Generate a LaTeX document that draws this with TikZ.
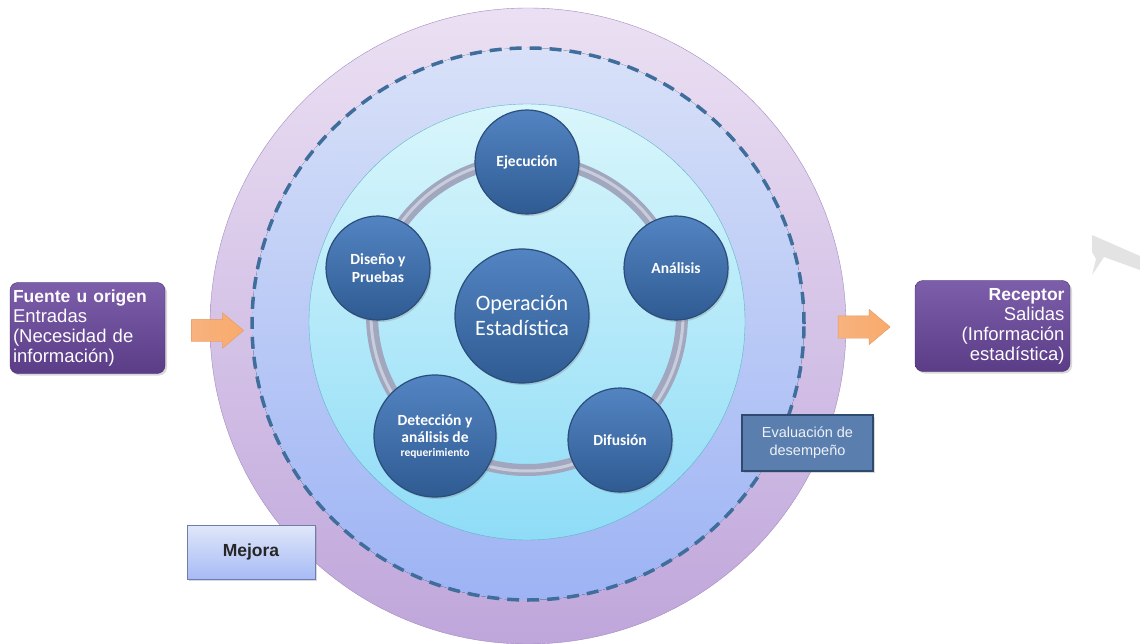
\documentclass[tikz,border=0pt]{standalone}
\usepackage{fontspec}
\usepackage{xcolor}
\usepackage{tikz}
\usetikzlibrary{shapes,shadows,calc}
\newfontfamily\calibri{Carlito}
\newfontfamily\arial{Liberation Sans}
\definecolor{lilaarriba}{HTML}{EBE0F3}
\definecolor{lilaabajo}{HTML}{BFA6DB}
\definecolor{lilaborde}{HTML}{A08CBE}
\definecolor{periarriba}{HTML}{D8E1F8}
\definecolor{periabajo}{HTML}{9DB3F4}
\definecolor{discont}{HTML}{3F6D9C}
\definecolor{cianarriba}{HTML}{D9F6FB}
\definecolor{cianabajo}{HTML}{8FDCF7}
\definecolor{cianborde}{HTML}{62B3C6}
\definecolor{azularriba}{HTML}{5384C2}
\definecolor{azulabajo}{HTML}{2F5B92}
\definecolor{azulborde}{HTML}{2A4D7B}
\definecolor{anillo}{HTML}{A0A7BE}
\definecolor{anilloluz}{HTML}{C9CDDB}
\definecolor{moradoarriba}{HTML}{7C5EAA}
\definecolor{moradoabajo}{HTML}{5A3C87}
\definecolor{naranja}{HTML}{F7B27E}
\definecolor{naranjaborde}{HTML}{E59A63}
\definecolor{evalfondo}{HTML}{5A7EAE}
\definecolor{evalborde}{HTML}{2E4A6F}

\begin{document}
\begin{tikzpicture}[x=1pt,y=-1pt,
        etapa/.style={circle,draw=azulborde,line width=1.2pt,top color=azularriba,bottom color=azulabajo,
            text=white,align=center,inner sep=0pt,font=\calibri\bfseries\fontsize{15.5}{18}\selectfont,
            drop shadow={opacity=0.3,shadow xshift=1.5pt,shadow yshift=-2pt}},
        caja/.style={rounded corners=8pt,draw=moradoabajo!80!black,top color=moradoarriba,bottom color=moradoabajo,
            text=white!92!lilaarriba,minimum width=155pt,minimum height=91pt,inner xsep=3pt,
            font=\arial\fontsize{18.5}{20}\selectfont,drop shadow={opacity=0.3,shadow xshift=2pt,shadow yshift=-2pt}},
        flecha/.style={single arrow,draw=naranjaborde,left color=naranja,right color=naranja!85!orange,
            minimum height=52pt,single arrow head extend=6.5pt,single arrow tip angle=80,inner ysep=11pt,inner xsep=0pt},
        rotulo/.style={draw,line width=1.2pt,minimum width=130pt,minimum height=55pt,align=center,
            drop shadow={opacity=0.3,shadow xshift=2pt,shadow yshift=-2pt}}]
        \useasboundingbox (0, 0) rectangle (1140, 644);
        % anillos de fondo
        \coordinate (centro) at (528, 326);
        \draw [lilaborde,top color=lilaarriba,bottom color=lilaabajo] (centro) circle [radius=318pt];
        \fill [top color=periarriba,bottom color=periabajo] (528, 324) circle [radius=276pt];
        \draw [discont,line width=3.5pt,dash pattern=on 12pt off 8pt] (528, 324) circle [radius=276pt];
        \draw [cianborde,top color=cianarriba,bottom color=cianabajo] (527, 322) circle [radius=218pt];
        % ciclo
        \coordinate (ciclo) at (527, 315);
        \draw [anillo,line width=12pt] (ciclo) circle [radius=155pt];
        \draw [anilloluz,line width=3pt] (ciclo) circle [radius=156pt];
        \node [etapa,minimum size=134pt,font=\calibri\fontsize{22}{25}\selectfont] (oper) at (522, 316) {Operaci\'on\\Estad\'istica};
        \node [etapa,minimum size=104pt] (ejec) at (527, 162) {Ejecuci\'on};
        \node [etapa,minimum size=104pt] (anal) at (676, 268) {An\'alisis};
        \node [etapa,minimum size=104pt] (difu) at (620, 440) {Difusi\'on};
        \node [etapa,minimum size=122pt] (dete) at (435, 436) {Detecci\'on y\\[-1pt]an\'alisis de\\[-4pt]{\fontsize{11.5}{13}\selectfont requerimiento}};
        \node [etapa,minimum size=104pt] (dise) at (378, 268) {Dise\~no y\\Pruebas};
        % entradas y salidas
        \node [caja,align=left,text width=149pt] (fuente) at (87.5, 328) {{\bfseries\fontsize{17.5}{20}\selectfont Fuente u origen}\\Entradas\\(Necesidad de\\informaci\'on)};
        \node [caja,align=right,text width=144pt,inner xsep=5.5pt] (receptor) at (992.5, 326) {{\bfseries\fontsize{17.5}{20}\selectfont Receptor}\\Salidas\\(Informaci\'on\\estad\'istica)};
        \node [flecha] (flechaIn) at (211, 330.5) {};
        \node [flecha] (flechaOut) at (857.5, 327) {};
        % rotulos
        \node [rotulo,draw=evalborde,fill=evalfondo,text=white!90!evalfondo,minimum width=131pt,minimum height=56pt,
            font=\arial\fontsize{14.5}{18}\selectfont] (evalua) at (807.5, 443) {Evaluaci\'on de\\desempe\~no};
        \node [rotulo,draw=periabajo!70!black,line width=0.9pt,top color=periarriba!80!white,bottom color=periabajo!90!white,
            text=black!85,minimum width=128pt,minimum height=54pt,font=\arial\bfseries\fontsize{17.5}{20}\selectfont] (mejora) at (251, 552) {Mejora};
        % resto de flecha gris
        \fill [gray!22] (1092, 235) -- (1140, 256) -- (1140, 270) -- (1104, 257) -- (1092, 275) -- (1096, 259) -- (1092, 252) -- cycle;
    \end{tikzpicture}
\end{document}
